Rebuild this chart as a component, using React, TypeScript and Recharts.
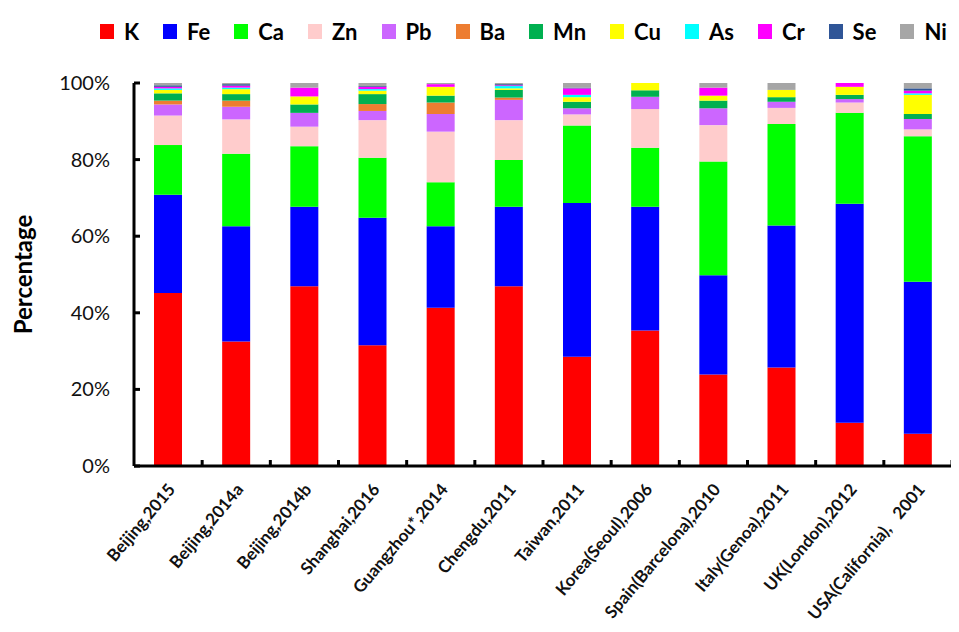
import { Bar, BarChart, XAxis, YAxis } from "recharts";

const sites = [
  "Beijing,2015",
  "Beijing,2014a",
  "Beijing,2014b",
  "Shanghai,2016",
  "Guangzhou*,2014",
  "Chengdu,2011",
  "Taiwan,2011",
  "Korea(Seoul),2006",
  "Spain(Barcelona),2010",
  "Italy(Genoa),2011",
  "UK(London),2012",
  "USA(California),   2001",
];

// percentage of each element, one value per site
const K = [45.2, 32.5, 46.9, 31.5, 41.3, 46.9, 28.5, 35.4, 23.9, 25.7, 11.3, 8.4];
const Fe = [25.6, 30.1, 20.8, 33.3, 21.3, 20.8, 40.2, 32.3, 25.9, 37.1, 57.2, 39.7];
const Ca = [13.0, 18.9, 15.8, 15.7, 11.5, 12.2, 20.2, 15.4, 29.7, 26.5, 23.7, 38.0];
const Zn = [7.7, 9.0, 5.1, 9.8, 13.2, 10.4, 2.9, 10.1, 9.5, 4.2, 2.7, 1.8];
const Pb = [2.9, 3.3, 3.6, 2.4, 4.6, 5.3, 1.6, 3.2, 4.4, 1.6, 0.9, 2.7];
const Ba = [1.0, 1.6, 0, 1.8, 3.0, 0.6, 0, 0, 0, 0, 0, 0];
const Mn = [1.9, 1.7, 2.2, 2.6, 1.8, 2.0, 1.7, 1.7, 2.0, 1.2, 1.1, 1.3];
const Cu = [0.9, 1.3, 2.1, 0.9, 2.3, 0.4, 1.2, 1.9, 1.3, 1.9, 2.1, 5.0];
const As = [0.4, 0.4, 0, 0.4, 0, 0.6, 0.6, 0, 0, 0, 0, 0.4];
const Cr = [0.4, 0.5, 2.3, 0.6, 0.7, 0.2, 1.7, 0, 2.1, 0, 1.0, 0.7];
const Se = [0.4, 0.4, 0, 0.2, 0, 0.3, 0.2, 0, 0, 0, 0, 0.6];
const Ni = [0.6, 0.3, 1.2, 0.8, 0.3, 0.3, 1.2, 0, 1.2, 1.8, 0, 1.4];

const elements = ["K", "Fe", "Ca", "Zn", "Pb", "Ba", "Mn", "Cu", "As", "Cr", "Se", "Ni"];
const values = [K, Fe, Ca, Zn, Pb, Ba, Mn, Cu, As, Cr, Se, Ni];
const colors = [
  "#FF0000",
  "#0000FF",
  "#00FF00",
  "#FFCCCC",
  "#CC66FF",
  "#ED7D31",
  "#00B050",
  "#FFFF00",
  "#00FFFF",
  "#FF00FF",
  "#2F5597",
  "#A6A6A6",
];
const yTicks = [0, 0.2, 0.4, 0.6, 0.8, 1];

const data = sites.map((site, i) => {
  const row: any = { site };
  elements.forEach((el, j) => {
    row[el] = values[j][i];
  });
  return row;
});

const FONT = "Lato, 'Liberation Sans', sans-serif";

const YTick = ({ x, y, payload }: any) => (
  <g>
    <line x1={x + 24} x2={x + 30} y1={y} y2={y} stroke="#000" strokeWidth={3} />
    <text x={x} y={y} dy={7} textAnchor="end" fontSize={20} fontFamily={FONT} fill="#111">
      {Math.round(payload.value * 100)}%
    </text>
  </g>
);

const XTick = ({ x, y, payload }: any) => {
  const half = payload.offset || 34;
  return (
    <g>
      <line x1={x + half} x2={x + half} y1={y} y2={y - 6} stroke="#000" strokeWidth={3} />
      <text
        transform={`translate(${x + 8},${y + 24}) rotate(-50)`}
        textAnchor="end"
        fontSize={17}
        fontWeight="bold"
        fontFamily={FONT}
        fill="#111"
        xmlSpace="preserve"
      >
        {payload.value}
      </text>
    </g>
  );
};

const YLabel = ({ viewBox }: any) => {
  const cx = 14;
  const cy = viewBox.y + viewBox.height / 2;
  return (
    <text
      transform={`translate(${cx},${cy}) rotate(-90)`}
      textAnchor="middle"
      dominantBaseline="central"
      fontSize={24}
      fontWeight="bold"
      fontFamily={FONT}
      fill="#000"
    >
      Percentage
    </text>
  );
};

const LegendRow = () => (
  <div
    style={{
      position: "absolute",
      top: 10,
      left: 92,
      display: "flex",
      alignItems: "center",
      fontFamily: FONT,
      fontWeight: "bold",
      fontSize: 22,
      color: "#000",
      whiteSpace: "nowrap",
    }}
  >
    {elements.map((el, i) => (
      <div key={el} style={{ display: "flex", alignItems: "center", marginRight: 24 }}>
        <span
          style={{
            display: "inline-block",
            width: 14,
            height: 15,
            background: colors[i],
            marginRight: 10,
          }}
        />
        <span>{el}</span>
      </div>
    ))}
  </div>
);

export default function App() {
  return (
    <div style={{ position: "relative", width: 945, height: 624 }}>
      <BarChart
        width={945}
        height={624}
        data={data}
        stackOffset="expand"
        margin={{ top: 75, right: 1, left: 0, bottom: 6 }}
      >
        <XAxis
          dataKey="site"
          interval={0}
          height={160}
          tickSize={0}
          tickMargin={0}
          tickLine={false}
          axisLine={{ stroke: "#000", strokeWidth: 3 }}
          tick={<XTick />}
        />
        <YAxis
          width={126}
          domain={[0, 1]}
          ticks={yTicks}
          tickSize={0}
          tickMargin={24}
          tickLine={false}
          axisLine={{ stroke: "#000", strokeWidth: 3 }}
          tick={<YTick />}
          label={<YLabel />}
        />
        {elements.map((el, i) => (
          <Bar
            key={el}
            dataKey={el}
            stackId="a"
            fill={colors[i]}
            barSize={28}
            isAnimationActive={false}
          />
        ))}
      </BarChart>
      <LegendRow />
    </div>
  );
}
